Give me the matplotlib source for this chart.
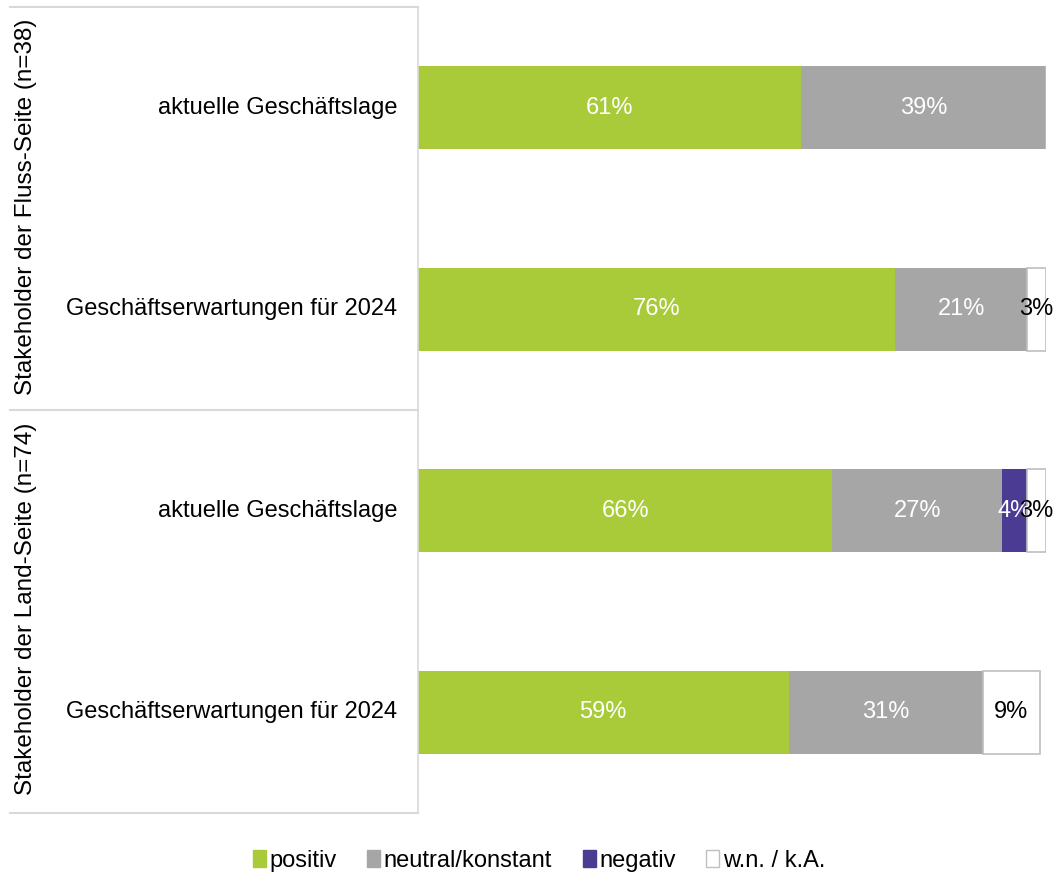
import numpy as np
import matplotlib.pyplot as plt
from matplotlib.lines import Line2D
from matplotlib.patches import Patch

plt.rcParams['font.family'] = ['Liberation Sans', 'DejaVu Sans']

# data
rows = ["aktuelle Geschäftslage", "Geschäftserwartungen für 2024",
        "aktuelle Geschäftslage", "Geschäftserwartungen für 2024"]
groups = ["Stakeholder der Fluss-Seite (n=38)", "Stakeholder der Land-Seite (n=74)"]
series = ["positiv", "neutral/konstant", "negativ", "w.n. / k.A."]
positiv = [61, 76, 66, 59]
neutral = [39, 21, 27, 31]
negativ = [0, 0, 4, 0]
wnka = [0, 3, 3, 9]

colors = ["#A9CB3A", "#A6A6A6", "#4B3B92", "#FFFFFF"]
txtcol = ["white", "white", "white", "black"]
values = [positiv, neutral, negativ, wnka]

fig = plt.figure(figsize=(10.56, 8.8), dpi=100)
ax = fig.add_axes([418/1056, 1 - 813/880, 628/1056, 806/880])

y = np.arange(len(rows))
left = np.zeros(len(rows))
for k in range(len(series)) :
    v = np.array(values[k], dtype=float)
    ax.barh(y, v, left=left, height=0.41, color=colors[k],
            edgecolor="#BFBFBF" if k == 3 else colors[k], linewidth=1.2 if k == 3 else 0)
    for i in range(len(rows)) :
        if v[i] > 0 :
            ax.text(left[i] + v[i]/2, y[i], "%d%%" % v[i], ha="center", va="center",
                    color=txtcol[k], fontsize=17)
    left += v

ax.set_xlim(0, 100)
ax.set_ylim(3.5, -0.5)
ax.set_xticks([])
ax.set_yticks([])
for s in ["top", "right", "bottom"] :
    ax.spines[s].set_visible(False)
ax.spines["left"].set_color("#D9D9D9")
ax.spines["left"].set_linewidth(1.2)

# category labels and group labels
for i in range(len(rows)) :
    ax.text(-3.3, y[i], rows[i], ha="right", va="center", fontsize=17,
            transform=ax.transData, clip_on=False)
for g in range(len(groups)) :
    fig.text(26/1056, 1 - (207 + 402*g)/880, groups[g], rotation=90,
             ha="center", va="center", fontsize=17.5)

# separator lines of the left panel
for yy in [7, 410, 813] :
    fig.add_artist(Line2D([10/1056, 418/1056], [1 - yy/880, 1 - yy/880],
                          color="#D9D9D9", linewidth=1.5))

handles = [Patch(facecolor=colors[k], edgecolor="#BFBFBF" if k == 3 else colors[k])
           for k in range(len(series))]
fig.legend(handles, series, loc="center", bbox_to_anchor=(539/1056, 1 - 861/880), ncol=4,
           frameon=False, fontsize=17, handlelength=0.55, handleheight=0.7,
           handletextpad=0.15, columnspacing=1.3)

fig.savefig("out.png", dpi=100)
